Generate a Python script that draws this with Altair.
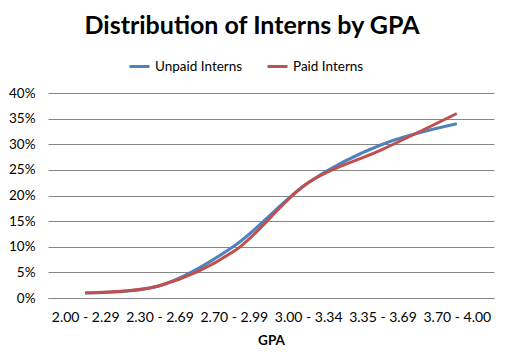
import altair as alt
import pandas as pd

categories = ["2.00 - 2.29", "2.30 - 2.69", "2.70 - 2.99", "3.00 - 3.34", "3.35 - 3.69", "3.70 - 4.00"]
unpaid = [0.010, 0.024, 0.101, 0.225, 0.300, 0.340]
paid = [0.010, 0.024, 0.091, 0.225, 0.290, 0.360]
series_names = ["Unpaid Interns", "Paid Interns"]
colors = ["#4F81BD", "#C0504D"]

rows = []
for name, vals in zip(series_names, [unpaid, paid]):
    for c, v in zip(categories, vals):
        rows.append({"GPA": c, "Share": v, "Series": name})
df = pd.DataFrame(rows)

font = "Lato"

chart = alt.Chart(df).mark_line(strokeWidth=3, interpolate="catmull-rom").encode(
    x=alt.X("GPA:N", sort=categories, scale=alt.Scale(paddingInner=0, paddingOuter=0.5),
            axis=alt.Axis(title="GPA", labelAngle=0, ticks=False, grid=False,
                          domainColor="#868686", labelFontSize=14, labelPadding=12,
                          titleFontSize=13.5, titleFontWeight="bold", titlePadding=9,
                          labelColor="#000", titleColor="#000")),
    y=alt.Y("Share:Q", scale=alt.Scale(domain=[0, 0.4]),
            axis=alt.Axis(title=None, format=".0%", values=[0, .05, .1, .15, .2, .25, .3, .35, .4],
                          ticks=False, domain=False, gridColor="#868686", labelFontSize=13.5,
                          labelPadding=13, labelColor="#000")),
    color=alt.Color("Series:N", sort=series_names,
                    scale=alt.Scale(domain=series_names, range=colors),
                    legend=alt.Legend(title=None, orient="none", direction="horizontal",
                                      legendX=80, legendY=-38, symbolType="stroke",
                                      symbolStrokeWidth=3, symbolSize=400, labelFontSize=13.5,
                                      columnPadding=18, labelColor="#000")),
).properties(
    width=446, height=205,
    title=alt.TitleParams("Distribution of Interns by GPA", fontSize=25, fontWeight="bold",
                          anchor="middle", offset=16, dx=-19, color="#000"),
    padding={"left": 40, "top": 85, "right": 3, "bottom": 52},
    autosize=alt.AutoSizeParams(type="none"),
).configure(font=font).configure_view(stroke=None)

chart.save("out.html", embed_options={"renderer": "svg", "actions": False})
